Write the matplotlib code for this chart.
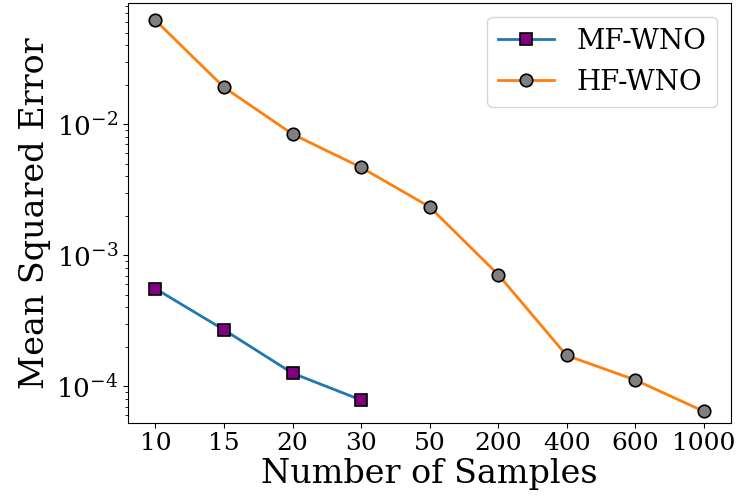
import matplotlib
matplotlib.use("Agg")
import matplotlib.pyplot as plt

# sample counts shown on the x axis (evenly spaced, categorical)
sample_labels = ["10", "15", "20", "30", "50", "200", "400", "600", "1000"]

# mean squared error for each model
mf_wno_mse = [5.56e-4, 2.70e-4, 1.26e-4, 7.87e-5]
hf_wno_mse = [6.2e-2, 1.91e-2, 8.4e-3, 4.68e-3, 2.34e-3, 7.13e-4, 1.72e-4, 1.12e-4, 6.45e-5]

plt.rcParams["font.family"] = "DejaVu Serif"
plt.rcParams["mathtext.fontset"] = "dejavuserif"

fig = plt.figure(figsize=(7.4, 5), dpi=100)
ax = fig.add_axes([0.173, 0.155, 0.815, 0.839])

x_mf = list(range(len(mf_wno_mse)))
x_hf = list(range(len(hf_wno_mse)))

ax.plot(x_mf, mf_wno_mse, "-s", color="tab:blue", lw=2, markersize=9,
        markerfacecolor="purple", markeredgecolor="black", markeredgewidth=1.2,
        label="MF-WNO")
ax.plot(x_hf, hf_wno_mse, "-o", color="tab:orange", lw=2, markersize=9,
        markerfacecolor="gray", markeredgecolor="black", markeredgewidth=1.2,
        label="HF-WNO")

ax.set_yscale("log")
ax.set_ylim(5.3e-5, 8.4e-2)
ax.set_xlim(-0.4, 8.4)
ax.set_xticks(x_hf)
ax.set_xticklabels(sample_labels)
ax.tick_params(axis="x", labelsize=18)
ax.tick_params(axis="y", labelsize=19)

ax.set_xlabel("Number of Samples", fontsize=24, labelpad=2)
ax.set_ylabel("Mean Squared Error", fontsize=24)
ax.legend(fontsize=20, loc="upper right")

fig.savefig("out.png", dpi=100)
